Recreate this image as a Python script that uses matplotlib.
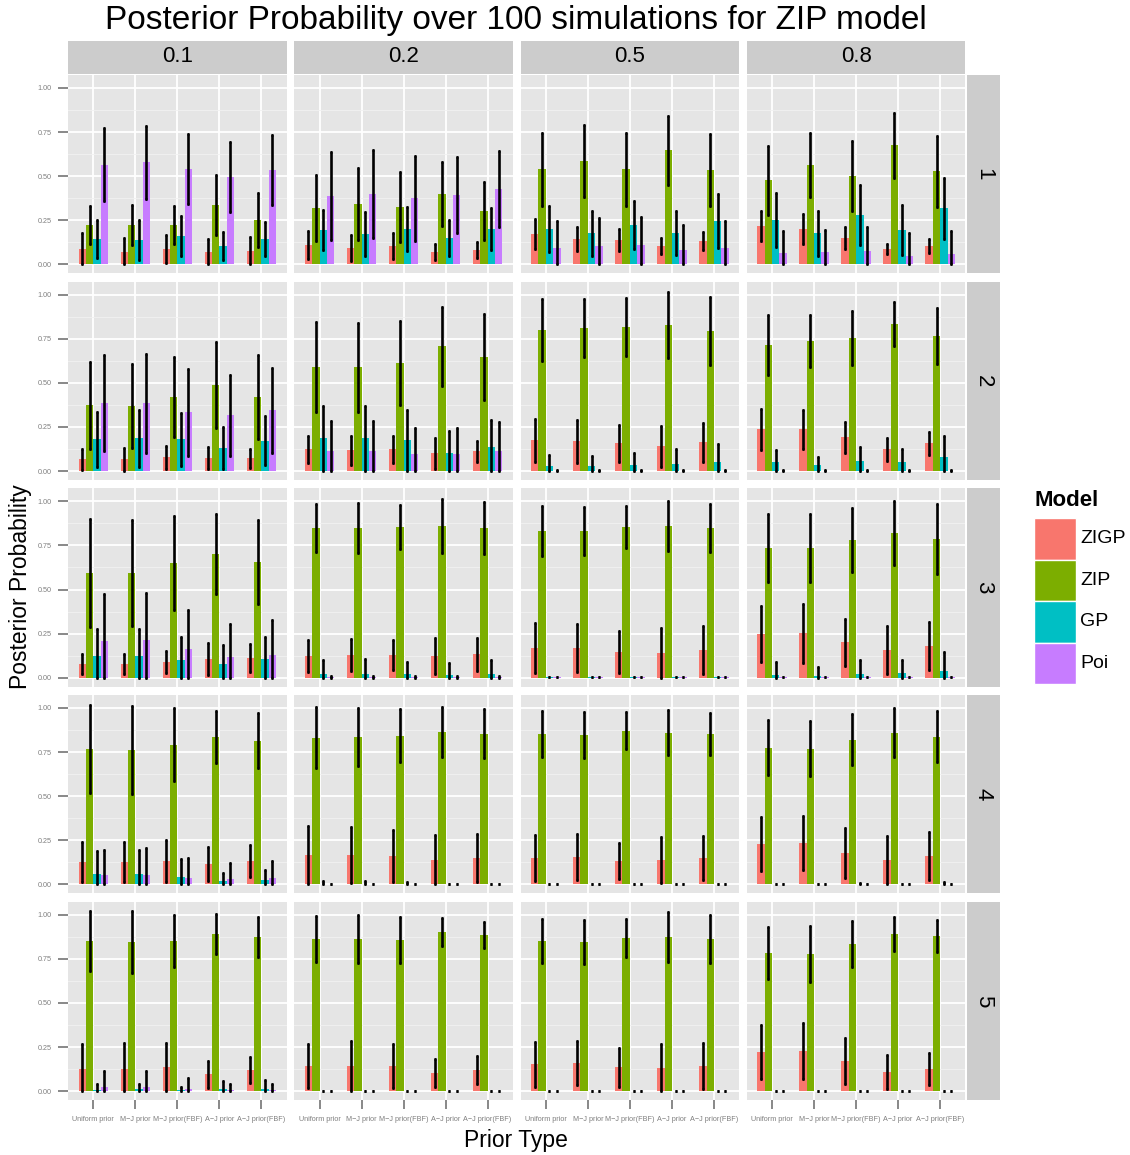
import numpy as np
import matplotlib
matplotlib.use("Agg")
from matplotlib import pyplot as plt
from matplotlib.patches import Rectangle

plt.rcParams["font.family"] = ["Liberation Sans", "DejaVu Sans"]

proportions = ["0.1", "0.2", "0.5", "0.8"]
scenarios = ["1", "2", "3", "4", "5"]
priors = ["Uniform prior", "M\u2212J prior", "M\u2212J prior(FBF)",
          "A\u2212J prior", "A\u2212J prior(FBF)"]
models = ["ZIGP", "ZIP", "GP", "Poi"]
colors = ["#F8766D", "#7CAE00", "#00BFC4", "#C77CFF"]

# indexed [scenario][proportion][prior]
zigp_mean = [
    [[0.088, 0.070, 0.089, 0.070, 0.075], [0.109, 0.092, 0.104, 0.070, 0.081],
     [0.172, 0.143, 0.138, 0.104, 0.132], [0.217, 0.200, 0.149, 0.087, 0.104]],
    [[0.066, 0.066, 0.078, 0.072, 0.072], [0.123, 0.117, 0.123, 0.100, 0.112],
     [0.174, 0.169, 0.157, 0.140, 0.163], [0.237, 0.237, 0.191, 0.123, 0.157]],
    [[0.078, 0.078, 0.089, 0.106, 0.112], [0.123, 0.129, 0.129, 0.123, 0.134],
     [0.168, 0.168, 0.146, 0.140, 0.157], [0.248, 0.253, 0.202, 0.157, 0.180]],
    [[0.127, 0.127, 0.133, 0.116, 0.133], [0.167, 0.167, 0.161, 0.138, 0.150],
     [0.150, 0.155, 0.133, 0.138, 0.150], [0.229, 0.235, 0.178, 0.138, 0.161]],
    [[0.125, 0.125, 0.136, 0.096, 0.119], [0.142, 0.142, 0.142, 0.102, 0.119],
     [0.153, 0.159, 0.136, 0.130, 0.142], [0.221, 0.227, 0.170, 0.108, 0.125]],
]
zigp_sd = [
    [[0.091, 0.079, 0.079, 0.075, 0.080], [0.081, 0.072, 0.073, 0.045, 0.047],
     [0.085, 0.070, 0.062, 0.047, 0.053], [0.083, 0.087, 0.062, 0.028, 0.040]],
    [[0.061, 0.063, 0.064, 0.062, 0.053], [0.076, 0.080, 0.076, 0.086, 0.060],
     [0.121, 0.121, 0.104, 0.118, 0.112], [0.115, 0.111, 0.089, 0.065, 0.065]],
    [[0.058, 0.058, 0.062, 0.092, 0.081], [0.093, 0.092, 0.085, 0.102, 0.093],
     [0.142, 0.136, 0.117, 0.142, 0.136], [0.158, 0.167, 0.133, 0.138, 0.136]],
    [[0.115, 0.115, 0.119, 0.098, 0.090], [0.166, 0.157, 0.148, 0.140, 0.138],
     [0.132, 0.131, 0.104, 0.129, 0.123], [0.154, 0.155, 0.142, 0.139, 0.138]],
    [[0.142, 0.147, 0.136, 0.076, 0.072], [0.125, 0.140, 0.126, 0.078, 0.078],
     [0.127, 0.126, 0.110, 0.138, 0.132], [0.153, 0.159, 0.129, 0.096, 0.092]],
]
zip_mean = [
    [[0.223, 0.223, 0.223, 0.336, 0.251], [0.319, 0.342, 0.325, 0.398, 0.302],
     [0.540, 0.585, 0.540, 0.647, 0.534], [0.477, 0.562, 0.500, 0.675, 0.528]],
    [[0.373, 0.367, 0.419, 0.487, 0.419], [0.589, 0.589, 0.612, 0.708, 0.646],
     [0.799, 0.811, 0.816, 0.828, 0.794], [0.714, 0.737, 0.754, 0.833, 0.765]],
    [[0.594, 0.594, 0.650, 0.701, 0.656], [0.849, 0.849, 0.854, 0.860, 0.849],
     [0.832, 0.832, 0.854, 0.860, 0.849], [0.735, 0.735, 0.781, 0.820, 0.786]],
    [[0.769, 0.763, 0.792, 0.837, 0.814], [0.831, 0.837, 0.843, 0.866, 0.854],
     [0.854, 0.848, 0.871, 0.860, 0.854], [0.775, 0.769, 0.820, 0.860, 0.837]],
    [[0.851, 0.845, 0.851, 0.890, 0.873], [0.862, 0.862, 0.856, 0.902, 0.885],
     [0.851, 0.845, 0.868, 0.873, 0.862], [0.783, 0.777, 0.834, 0.890, 0.879]],
]
zip_sd = [
    [[0.109, 0.113, 0.107, 0.172, 0.153], [0.189, 0.205, 0.198, 0.183, 0.164],
     [0.207, 0.204, 0.207, 0.195, 0.202], [0.195, 0.183, 0.198, 0.183, 0.202]],
    [[0.246, 0.239, 0.227, 0.244, 0.238], [0.256, 0.252, 0.238, 0.224, 0.244],
     [0.174, 0.166, 0.163, 0.187, 0.195], [0.172, 0.150, 0.153, 0.127, 0.159]],
    [[0.304, 0.298, 0.265, 0.227, 0.238], [0.138, 0.142, 0.125, 0.153, 0.149],
     [0.143, 0.138, 0.120, 0.142, 0.134], [0.191, 0.191, 0.179, 0.180, 0.197]],
    [[0.248, 0.250, 0.206, 0.148, 0.156], [0.173, 0.163, 0.149, 0.142, 0.138],
     [0.129, 0.131, 0.106, 0.129, 0.119], [0.155, 0.157, 0.144, 0.138, 0.144]],
    [[0.172, 0.178, 0.149, 0.114, 0.112], [0.130, 0.136, 0.129, 0.079, 0.075],
     [0.126, 0.127, 0.107, 0.142, 0.138], [0.149, 0.159, 0.130, 0.097, 0.093]],
]
gp_mean = [
    [[0.145, 0.138, 0.160, 0.104, 0.143], [0.194, 0.172, 0.200, 0.149, 0.200],
     [0.200, 0.177, 0.223, 0.177, 0.245], [0.251, 0.177, 0.279, 0.194, 0.319]],
    [[0.180, 0.186, 0.180, 0.129, 0.172], [0.186, 0.186, 0.174, 0.100, 0.134],
     [0.027, 0.027, 0.032, 0.038, 0.049], [0.049, 0.032, 0.055, 0.049, 0.078]],
    [[0.123, 0.123, 0.100, 0.078, 0.106], [0.023, 0.023, 0.019, 0.015, 0.019],
     [0.003, 0.003, 0.003, 0.003, 0.003], [0.013, 0.008, 0.019, 0.025, 0.038]],
    [[0.059, 0.059, 0.042, 0.017, 0.025], [0.003, 0.003, 0.003, 0.003, 0.003],
     [0.003, 0.003, 0.003, 0.003, 0.003], [0.003, 0.003, 0.003, 0.003, 0.003]],
    [[0.006, 0.011, 0.006, 0.011, 0.011], [0.003, 0.003, 0.003, 0.003, 0.003],
     [0.003, 0.003, 0.003, 0.003, 0.003], [0.003, 0.003, 0.003, 0.003, 0.003]],
]
gp_sd = [
    [[0.108, 0.115, 0.115, 0.079, 0.097], [0.114, 0.122, 0.123, 0.102, 0.119],
     [0.132, 0.127, 0.137, 0.123, 0.151], [0.151, 0.127, 0.168, 0.140, 0.173]],
    [[0.155, 0.162, 0.150, 0.119, 0.139], [0.183, 0.183, 0.173, 0.129, 0.156],
     [0.066, 0.058, 0.068, 0.085, 0.104], [0.070, 0.046, 0.081, 0.078, 0.119]],
    [[0.155, 0.155, 0.131, 0.107, 0.127], [0.079, 0.085, 0.068, 0.066, 0.081],
     [0.000, 0.000, 0.000, 0.000, 0.000], [0.078, 0.052, 0.083, 0.077, 0.106]],
    [[0.130, 0.138, 0.104, 0.047, 0.058], [0.018, 0.015, 0.011, 0.000, 0.000],
     [0.000, 0.000, 0.000, 0.000, 0.000], [0.000, 0.000, 0.004, 0.000, 0.011]],
    [[0.032, 0.031, 0.020, 0.046, 0.055], [0.000, 0.000, 0.000, 0.000, 0.000],
     [0.000, 0.000, 0.000, 0.000, 0.000], [0.000, 0.000, 0.000, 0.000, 0.000]],
]
poi_mean = [
    [[0.564, 0.579, 0.540, 0.494, 0.534], [0.387, 0.398, 0.375, 0.392, 0.426],
     [0.092, 0.104, 0.109, 0.081, 0.092], [0.064, 0.070, 0.075, 0.047, 0.058]],
    [[0.384, 0.384, 0.333, 0.316, 0.345], [0.112, 0.112, 0.097, 0.097, 0.112],
     [0.003, 0.003, 0.003, 0.003, 0.003], [0.003, 0.003, 0.003, 0.003, 0.003]],
    [[0.208, 0.214, 0.163, 0.117, 0.129], [0.003, 0.003, 0.003, 0.003, 0.003],
     [0.003, 0.003, 0.003, 0.003, 0.003], [0.003, 0.003, 0.003, 0.003, 0.003]],
    [[0.053, 0.053, 0.036, 0.030, 0.036], [0.003, 0.003, 0.003, 0.003, 0.003],
     [0.003, 0.003, 0.003, 0.003, 0.003], [0.003, 0.003, 0.003, 0.003, 0.003]],
    [[0.021, 0.021, 0.011, 0.006, 0.006], [0.003, 0.003, 0.003, 0.003, 0.003],
     [0.003, 0.003, 0.003, 0.003, 0.003], [0.003, 0.003, 0.003, 0.003, 0.003]],
]
poi_sd = [
    [[0.206, 0.206, 0.198, 0.200, 0.198], [0.249, 0.251, 0.240, 0.214, 0.216],
     [0.155, 0.160, 0.161, 0.140, 0.153], [0.127, 0.126, 0.136, 0.128, 0.133]],
    [[0.273, 0.279, 0.245, 0.231, 0.240], [0.172, 0.172, 0.147, 0.147, 0.165],
     [0.004, 0.004, 0.004, 0.004, 0.004], [0.004, 0.004, 0.004, 0.004, 0.004]],
    [[0.266, 0.268, 0.223, 0.189, 0.196], [0.008, 0.008, 0.008, 0.008, 0.008],
     [0.000, 0.000, 0.000, 0.000, 0.000], [0.000, 0.000, 0.000, 0.000, 0.000]],
    [[0.144, 0.155, 0.116, 0.093, 0.095], [0.000, 0.000, 0.000, 0.000, 0.000],
     [0.000, 0.000, 0.000, 0.000, 0.000], [0.000, 0.000, 0.000, 0.000, 0.000]],
    [[0.094, 0.094, 0.065, 0.032, 0.032], [0.000, 0.000, 0.000, 0.000, 0.000],
     [0.000, 0.000, 0.000, 0.000, 0.000], [0.000, 0.000, 0.000, 0.000, 0.000]],
]

means = [np.array(zigp_mean), np.array(zip_mean), np.array(gp_mean), np.array(poi_mean)]
sds = [np.array(zigp_sd), np.array(zip_sd), np.array(gp_sd), np.array(poi_sd)]

W, H = 1130, 1155
PANEL_L, PANEL_W, PANEL_DX = 68, 218.5, 226.3
PANEL_T, PANEL_H, PANEL_DY = 75, 198.2, 206.7
GREY_TXT = "#7F7F7F"


def box(left, top, width, height):
    return [left / W, 1 - (top + height) / H, width / W, height / H]


def strip(rect, label, rotation=0):
    ax = fig.add_axes(box(*rect))
    ax.set_facecolor("#CCCCCC")
    ax.set_xticks([])
    ax.set_yticks([])
    for s in ax.spines.values():
        s.set_visible(False)
    ax.text(0.5, 0.5, label, ha="center", va="center", rotation=rotation,
            fontsize=16, transform=ax.transAxes)


fig = plt.figure(figsize=(W / 100, H / 100), dpi=100)

x = np.arange(1, len(priors) + 1)
bar_w = 0.175

for r in range(len(scenarios)):
    for c in range(len(proportions)):
        left = PANEL_L + c * PANEL_DX
        top = PANEL_T + r * PANEL_DY
        ax = fig.add_axes(box(left, top, PANEL_W, PANEL_H))
        ax.set_facecolor("#E5E5E5")
        for s in ax.spines.values():
            s.set_visible(False)

        for j in range(len(models)):
            m = means[j][r, c]
            sd = sds[j][r, c]
            xs = x + (j - 1.5) * bar_w
            ax.bar(xs, m, width=bar_w, color=colors[j], linewidth=0, zorder=2)
            lower = np.minimum(sd, m)
            eb = ax.errorbar(xs, m, yerr=[lower, sd], fmt="none", ecolor="black",
                             elinewidth=1.9, capsize=0.75, capthick=1.9, zorder=3)
            for lc in eb.lines[2]:
                lc.set_capstyle("round")

        ax.set_xlim(0.4, 5.6)
        ax.set_ylim(-0.05, 1.073)
        ax.set_xticks(x)
        ax.set_yticks([0, 0.25, 0.5, 0.75, 1.0])
        ax.set_yticks([0.125, 0.375, 0.625, 0.875], minor=True)
        ax.grid(True, which="major", color="white", linewidth=1.3, zorder=0)
        ax.grid(True, which="minor", axis="y", color="#F2F2F2", linewidth=0.6, zorder=0)
        ax.set_axisbelow(True)
        ax.tick_params(which="minor", length=0)

        if c == 0:
            ax.set_yticklabels(["0.00", "0.25", "0.50", "0.75", "1.00"])
            ax.tick_params(axis="y", length=7, width=1.3, color=GREY_TXT,
                           labelsize=5.2, labelcolor=GREY_TXT, pad=5)
        else:
            ax.tick_params(axis="y", left=False, labelleft=False)
        if r == len(scenarios) - 1:
            ax.set_xticklabels(priors)
            ax.tick_params(axis="x", length=6.5, width=1.3, color=GREY_TXT,
                           labelsize=5.2, labelcolor=GREY_TXT, pad=5)
        else:
            ax.tick_params(axis="x", bottom=False, labelbottom=False)

        if r == 0:
            strip((left, 40.5, PANEL_W, 33), proportions[c])
        if c == len(proportions) - 1:
            strip((967, top, 33, PANEL_H), scenarios[r], rotation=-90)

fig.text(516 / W, 1 - 21 / H, "Posterior Probability over 100 simulations for ZIP model",
         ha="center", va="center", fontsize=24)
fig.text(516 / W, 1 - 1140 / H, "Prior Type", ha="center", va="center", fontsize=16.5)
fig.text(21 / W, 1 - 587 / H, "Posterior Probability", ha="center", va="center",
         rotation=90, fontsize=16.5)

# legend
fig.text(1035 / W, 1 - 501 / H, "Model", ha="left", va="center",
         fontsize=16, fontweight="bold")
key_h = 41.5
for j, name in enumerate(models):
    ktop = 518 + j * key_h
    fig.patches.append(Rectangle((1034 / W, 1 - (ktop + key_h) / H), 42 / W, key_h / H,
                                 transform=fig.transFigure, facecolor=colors[j],
                                 edgecolor="white", linewidth=1))
    fig.text(1080 / W, 1 - (ktop + key_h / 2) / H, name, ha="left", va="center", fontsize=14)

fig.savefig("out.png", dpi=100)
